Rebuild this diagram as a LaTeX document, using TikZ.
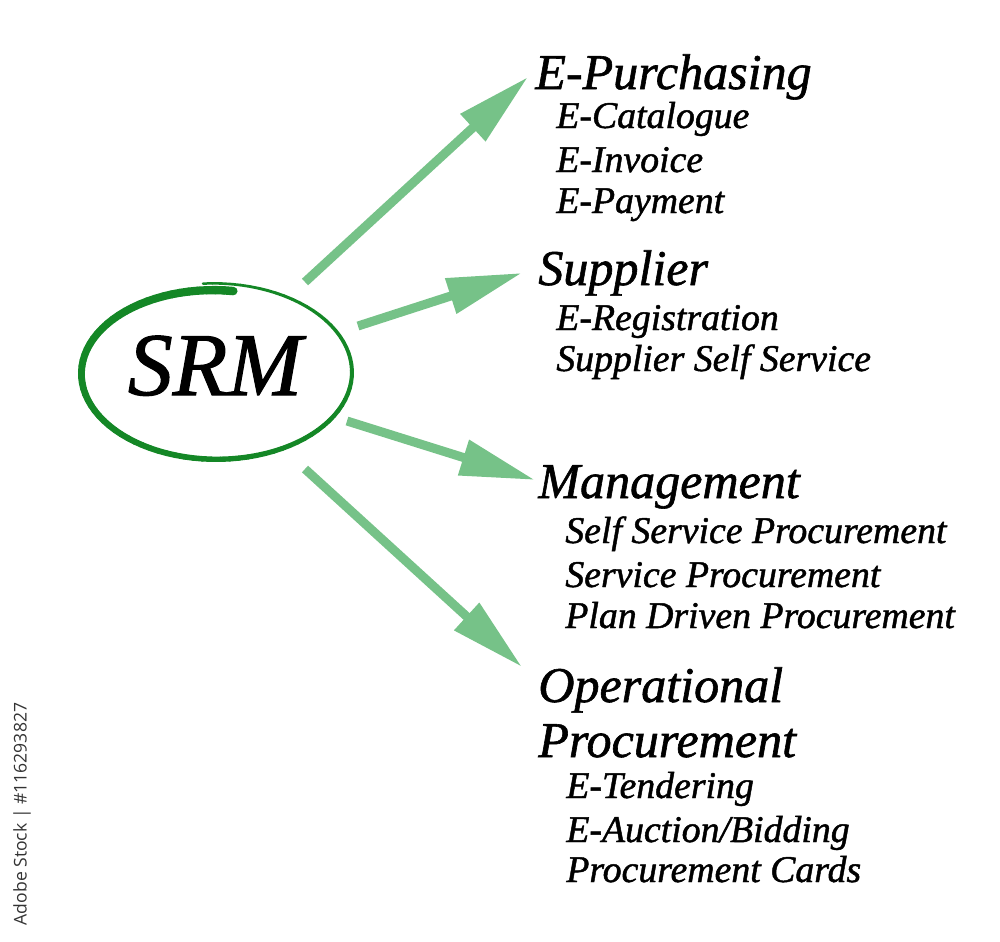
\documentclass[tikz,border=0pt]{standalone}
\usepackage{fontspec}
\setmainfont{Liberation Serif}[ItalicFeatures={FakeBold=1.2}]
\newfontfamily\stockfont{Open Sans}
\usetikzlibrary{arrows.meta}

\begin{document}
\begin{tikzpicture}[x=0.02cm, y=-0.02cm,
  srmtext/.style={font=\itshape\fontsize{51}{56}\selectfont, anchor=base, inner sep=0pt},
  headtext/.style={font=\itshape\fontsize{28.5}{31}\selectfont, anchor=base west, inner sep=0pt},
  itemtext/.style={font=\itshape\fontsize{21.5}{24}\selectfont, anchor=base west, inner sep=0pt},
  srmarrow/.style={draw=arrowgreen, line width=0.18cm, -{Triangle[length=1.5cm, width=0.7cm]}}]

%─────────────
% Controls
%─────────────
\definecolor{srmgreen}{RGB}{20,135,38}     % brush ring
\definecolor{arrowgreen}{RGB}{118,194,136} % light green arrows
\def\ringsteps{96}  % segments of the brush ring
\useasboundingbox (0,0) rectangle (1000,941);

%─────────────────────────────────────────────────────────────
% Brush ring round SRM: thin at the top, thick at the end
%─────────────────────────────────────────────────────────────
\foreach \i in {0,...,95} {
  \pgfmathsetmacro{\sa}{\i/\ringsteps}
  \pgfmathsetmacro{\sb}{(\i+1)/\ringsteps}
  \pgfmathsetmacro{\wa}{2.5+6*\sa}
  \pgfmathsetmacro{\wb}{2.5+6*\sb}
  \pgfmathsetmacro{\ta}{95-373*\sa}
  \pgfmathsetmacro{\tb}{95-373*\sb}
  \pgfmathsetmacro{\lw}{\wa*0.569}
  \draw[srmgreen, line width=\lw pt, line cap=round]
    ({215+(140-4*\sa-\wa/2)*cos(\ta)}, {373-(91-4*\sa-\wa/2)*sin(\ta)}) --
    ({215+(140-4*\sb-\wb/2)*cos(\tb)}, {373-(91-4*\sb-\wb/2)*sin(\tb)});
}

\node[srmtext] (srm) at (215,395) {SRM};

%─────────────
% Headings and their items
%─────────────
\node[headtext] (purch) at (535,89) {E-Purchasing};
\node[itemtext] (cat) at (556,128) {E-Catalogue};
\node[itemtext] (inv) at (556,172) {E-Invoice};
\node[itemtext] (pay) at (556,213) {E-Payment};

\node[headtext] (supp) at (538,285) {Supplier};
\node[itemtext] (reg) at (556,330) {E-Registration};
\node[itemtext] (self) at (556,371) {Supplier Self Service};

\node[headtext] (mgmt) at (538,498) {Management};
\node[itemtext] (ssp) at (565,543) {Self Service Procurement};
\node[itemtext] (sp) at (565,587) {Service Procurement};
\node[itemtext] (pdp) at (565,628) {Plan Driven Procurement};

\node[headtext] (oper) at (538,702) {Operational};
\node[headtext] (operp) at (538,757) {Procurement};
\node[itemtext] (tend) at (566,798) {E-Tendering};
\node[itemtext] (auct) at (566,842) {E-Auction/Bidding};
\node[itemtext] (cards) at (566,882) {Procurement Cards};

%─────────────
% Arrows from the ring
%─────────────
\coordinate (tailA) at (305,282);
\coordinate (tailB) at (358,326);
\coordinate (tailC) at (347,421);
\coordinate (tailD) at (305,469);

\draw[srmarrow] (tailA) -- ([shift={(-7,0)}]purch.west);
\draw[srmarrow] (tailB) -- ([shift={(-16,0)}]supp.west);
\draw[srmarrow] (tailC) -- ([shift={(-3,-7)}]mgmt.west);
\draw[srmarrow] (tailD) -- ([shift={(-16,-23)}]oper.west);

% stock line at the left edge
\node[font=\stockfont\fontsize{10}{12}\selectfont, text=black!80, rotate=90, inner sep=0pt]
  (stock) at (22,814) {Adobe Stock | \#116293827};
\end{tikzpicture}
\end{document}
